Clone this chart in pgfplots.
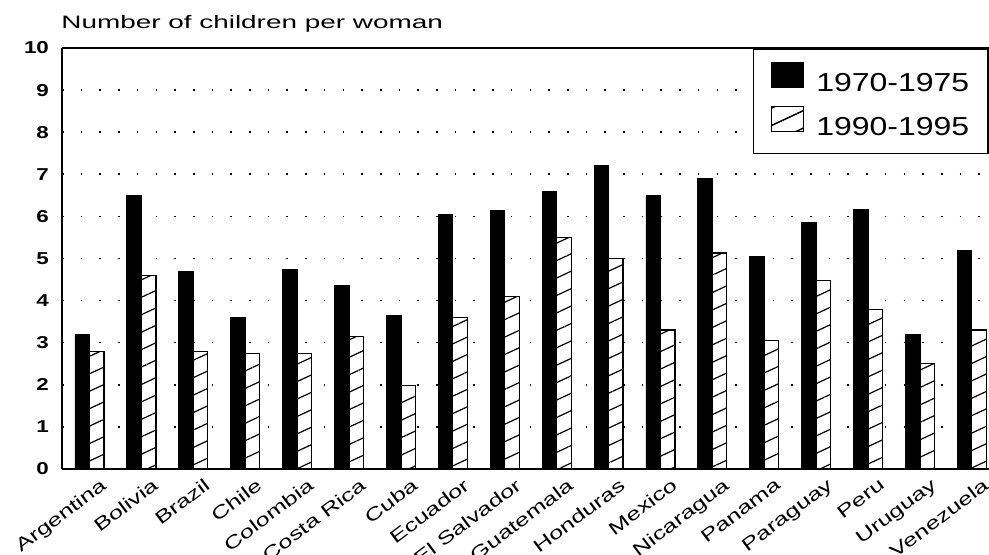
\documentclass[border=0pt]{standalone}
\usepackage{fontspec}
\setmainfont{Liberation Sans}
\usepackage{graphicx}
\usepackage{pgfplots}
\pgfplotsset{compat=1.18}
\usetikzlibrary{patterns.meta}

% stretched text, as in the scanned original
\newcommand{\wide}[2]{\scalebox{#1}[1]{#2}}

\pgfplotstableread{
idx a b
0 3.2 2.8
1 6.5 4.6
2 4.7 2.8
3 3.6 2.75
4 4.75 2.75
5 4.35 3.15
6 3.65 1.98
7 6.05 3.6
8 6.15 4.1
9 6.6 5.5
10 7.2 5.0
11 6.5 3.3
12 6.9 5.13
13 5.05 3.05
14 5.85 4.47
15 6.17 3.78
16 3.2 2.5
17 5.2 3.3
}\fert

\begin{document}
\begin{tikzpicture}
\useasboundingbox (-31pt,-43pt) rectangle (463.5pt,234.5pt);
\begin{axis}[
  at={(0,0)}, anchor=south west,
  width=463.5pt, height=210.5pt, scale only axis,
  ybar=0pt, bar width=0.28,
  xmin=-0.53, xmax=17.33,
  ymin=0, ymax=10,
  ytick={0,...,10},
  yticklabels={\wide{1.3}{0},\wide{1.3}{1},\wide{1.3}{2},\wide{1.3}{3},\wide{1.3}{4},\wide{1.3}{5},\wide{1.3}{6},\wide{1.3}{7},\wide{1.3}{8},\wide{1.3}{9},\wide{1.3}{10}},
  xtick={0,...,17},
  xticklabels={\wide{1.4}{Argentina},\wide{1.4}{Bolivia},\wide{1.4}{Brazil},\wide{1.4}{Chile},\wide{1.4}{Colombia},\wide{1.4}{Costa Rica},\wide{1.4}{Cuba},\wide{1.4}{Ecuador},\wide{1.4}{El Salvador},\wide{1.4}{Guatemala},\wide{1.4}{Honduras},\wide{1.4}{Mexico},\wide{1.4}{Nicaragua},\wide{1.4}{Panama},\wide{1.4}{Paraguay},\wide{1.4}{Peru},\wide{1.4}{Uruguay},\wide{1.4}{Venezuela}},
  axis x line*=bottom, axis y line*=left,
  axis line style={line width=0.8pt},
  major tick length=0pt,
  yticklabel style={font=\fontsize{8.6}{10}\selectfont\bfseries, xshift=-3pt},
  xticklabel style={font=\fontsize{9}{11}\selectfont, xshift=5pt, yshift=-4pt, rotate=37, anchor=north east, inner sep=0pt},
  ymajorgrids,
  major grid style={black, line width=0.8pt, dash pattern=on 0.8pt off 8.55pt},
  legend style={at={(axis description cs:1,1)}, anchor=north east, draw=black, line width=0.8pt,
    inner xsep=8.5pt, inner ysep=6.5pt, row sep=5pt, column sep=5pt,
    font=\fontsize{13}{15}\selectfont,
    nodes={inner sep=1pt}},
  legend cell align=left,
  extra description/.code={\draw[line width=0.9pt] (0,1) -- (1,1);},
]
\addplot[fill=black, draw=black,
  legend image code/.code={\draw[fill=black,draw=black] (0pt,-2pt) rectangle (16pt,10.5pt);}]
  table[x=idx, y=a] {\fert};
\addplot[fill=white, draw=black, line width=0.6pt,
  postaction={pattern={Lines[angle=25, distance=7.9pt, line width=0.6pt]}},
  legend image code/.code={\draw[fill=white,draw=black,line width=0.6pt,postaction={pattern={Lines[angle=25, distance=7.9pt, line width=0.6pt]}}] (0pt,-2pt) rectangle (16pt,10.5pt);}]
  table[x=idx, y=b] {\fert};
\legend{\wide{1.23}{1970-1975},\wide{1.23}{1990-1995}}
\end{axis}
\node[anchor=base west, inner sep=0pt, font=\fontsize{9}{11}\selectfont] at (-0.5pt,220pt) {\wide{1.55}{Number of children per woman}};
\end{tikzpicture}
\end{document}
